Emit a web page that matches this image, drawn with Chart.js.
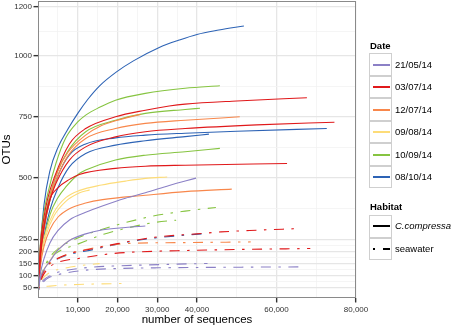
<!DOCTYPE html>
<html>
<head>
<meta charset="utf-8">
<script src="https://cdn.jsdelivr.net/npm/chart.js@4.4.1/dist/chart.umd.min.js"></script>
<style>
  html, body { margin: 0; padding: 0; background: #fff; }
  #wrap { position: relative; width: 454px; height: 329px; font-family: "Liberation Sans", Arial, sans-serif; }
  #chart { position: absolute; left: 0; top: 0; }
  .lg-title { position: absolute; left: 370px; font-size: 9.5px; font-weight: bold; line-height: 12px; color: #000; }
  .lg-key { position: absolute; left: 369px; width: 23px; height: 22.5px; box-sizing: border-box; border: 1.3px solid #cfcfcf; background: #fff; }
  .lg-label { position: absolute; left: 395px; font-size: 9.5px; line-height: 12px; color: #000; white-space: nowrap; }
  .seg { position: absolute; height: 2px; }
</style>
</head>
<body>
<div id="wrap">
  <canvas id="chart" width="454" height="329"></canvas>
  <div id="legend"></div>
</div>
<script>
// dates and habitats
const dates = ['21/05/14', '03/07/14', '12/07/14', '09/08/14', '10/09/14', '08/10/14'];
const dateColors = ['#8b80c6', '#e0191b', '#f8874b', '#fddc78', '#86c441', '#2d63b5'];
const habitats = ['C.compressa', 'seawater'];

// axis ticks
const yMajor = [50, 100, 150, 200, 250, 500, 750, 1000, 1200];
const yMinor = [75, 125, 175, 225, 375, 625, 875, 1100];
const xMajor = [10000, 20000, 30000, 40000, 60000, 80000];
const xTickLabels = ['10,000', '20,000', '30,000', '40,000', '60,000', '80,000'];
const xMinor = [5000, 15000, 25000, 35000, 50000, 70000];

// rarefaction curves, [sequences, OTUs]
// 21/05/14
const may21CC1 = [[100,48],[600,110],[1500,170],[3000,235],[5000,285],[8000,330],[12000,360],[16000,385],[22000,418],[27000,440],[33000,470],[39750,500]];
const may21CC2 = [[100,48],[600,90],[1500,125],[2900,158],[5000,205],[7900,245],[12000,272],[16000,288],[22000,298],[27000,304]];
const may21SW1 = [[100,40],[600,65],[1500,85],[3000,100],[5000,115],[8000,125],[13000,135],[20000,141],[28000,145],[35000,148],[42650,151]];
const may21SW2 = [[100,40],[600,60],[1500,78],[3000,95],[5000,105],[8000,115],[13000,125],[20000,130],[30000,133],[45000,135],[66800,137]];
// 03/07/14
const jul03CC1 = [[100,48],[600,220],[1500,340],[2500,420],[4150,505],[7900,640],[12000,703],[19500,751],[27000,778],[33000,795],[37000,803],[50000,816],[67650,829]];
const jul03CC2 = [[100,48],[600,190],[1500,300],[3000,410],[4500,478],[7900,574],[12000,628],[19500,669],[27000,690],[37000,703],[55000,718],[74575,729]];
const jul03CC3 = [[100,48],[600,170],[1500,300],[2900,410],[5000,460],[7900,495],[10400,515],[19500,540],[27000,549],[37000,553],[62650,560]];
const jul03SW1 = [[100,45],[800,95],[2500,145],[5000,172],[8000,192],[14000,212],[20000,232],[26000,250],[31500,262],[40000,272],[46000,280],[55000,287],[64700,293]];
const jul03SW2 = [[100,45],[800,85],[2500,130],[5000,155],[10400,172],[18000,190],[24750,198],[35000,203],[50000,208],[68500,212]];
// 12/07/14
const jul12CC1 = [[100,48],[600,190],[1500,300],[3000,420],[5000,530],[7500,605],[12000,676],[16000,715],[19500,735],[25800,761]];
const jul12CC2 = [[100,48],[600,180],[1500,290],[3000,410],[5000,510],[7500,590],[12000,662],[19500,703],[27000,724],[37000,737],[50750,751]];
const jul12CC3 = [[100,48],[600,140],[1500,220],[3000,290],[5000,340],[7900,375],[12000,398],[16250,412],[27000,430],[37000,445],[48750,455]];
const jul12SW1 = [[100,45],[800,90],[2500,140],[5000,170],[10000,200],[16000,220],[23000,233],[35000,236],[53500,239]];
// 09/08/14
const aug09CC1 = [[100,48],[600,170],[2000,280],[4000,360],[7000,420],[10500,450],[16000,472],[22000,488],[27000,499],[32500,505]];
const aug09CC2 = [[100,48],[600,160],[2000,265],[4000,345],[7000,405],[10500,440],[13000,452]];
const aug09CC3 = [[100,48],[600,95],[1250,120],[2900,160],[4575,199],[7000,235],[8750,253]];
const aug09SW1 = [[100,40],[400,50],[1250,55],[3000,58],[6000,62],[10000,65],[15000,67],[21650,69]];
const aug09SW2 = [[100,45],[600,70],[1500,95],[3500,118],[7000,132],[12000,145],[15500,150]];
// 10/09/14
const sep10CC1 = [[100,48],[600,230],[1500,360],[2500,440],[4500,560],[7000,665],[10000,730],[12000,758],[15500,790],[19500,819],[27000,847],[37000,868],[45750,878]];
const sep10CC2 = [[100,48],[600,210],[1500,320],[3000,430],[5000,530],[7500,610],[12000,690],[19500,737],[27000,765],[37000,781],[40750,786]];
const sep10CC3 = [[100,48],[600,150],[1500,250],[3000,350],[5000,420],[7000,464],[10400,519],[12000,533],[19500,574],[27000,594],[37000,608],[45750,622]];
const sep10SW1 = [[100,45],[800,100],[2500,165],[5000,210],[10000,255],[16000,290],[22000,318],[29000,345],[37000,365],[44750,380]];
const sep10SW2 = [[100,45],[800,95],[2500,160],[5000,198],[10000,230],[16500,270],[23000,298],[29000,318],[34750,328]];
// 08/10/14
const oct08CC1 = [[100,48],[500,200],[1500,390],[3000,530],[5000,625],[7500,700],[10000,765],[12500,822],[15500,878],[19750,935],[24000,980],[30500,1035],[35500,1065],[40000,1088],[45500,1106],[51800,1123]];
const oct08CC2 = [[100,48],[600,170],[1500,290],[3000,410],[5000,510],[7900,595],[12000,640],[19500,665],[27000,676],[37000,684],[50000,692],[72650,703]];
const oct08CC3 = [[100,48],[600,150],[1500,260],[3000,370],[5000,460],[7900,546],[12000,601],[19500,635],[27000,653],[37000,670],[43000,680]];
const oct08SW1 = [[100,45],[800,95],[2500,148],[5000,170],[8000,188],[14000,208],[20000,230],[27000,250],[35000,264],[43000,274]];

const curves = [
  { date: '21/05/14', habitat: 'C.compressa', pts: may21CC1 },
  { date: '21/05/14', habitat: 'C.compressa', pts: may21CC2 },
  { date: '21/05/14', habitat: 'seawater', pts: may21SW1 },
  { date: '21/05/14', habitat: 'seawater', pts: may21SW2 },
  { date: '03/07/14', habitat: 'C.compressa', pts: jul03CC1 },
  { date: '03/07/14', habitat: 'C.compressa', pts: jul03CC2 },
  { date: '03/07/14', habitat: 'C.compressa', pts: jul03CC3 },
  { date: '03/07/14', habitat: 'seawater', pts: jul03SW1 },
  { date: '03/07/14', habitat: 'seawater', pts: jul03SW2 },
  { date: '12/07/14', habitat: 'C.compressa', pts: jul12CC1 },
  { date: '12/07/14', habitat: 'C.compressa', pts: jul12CC2 },
  { date: '12/07/14', habitat: 'C.compressa', pts: jul12CC3 },
  { date: '12/07/14', habitat: 'seawater', pts: jul12SW1 },
  { date: '09/08/14', habitat: 'C.compressa', pts: aug09CC1 },
  { date: '09/08/14', habitat: 'C.compressa', pts: aug09CC2 },
  { date: '09/08/14', habitat: 'C.compressa', pts: aug09CC3 },
  { date: '09/08/14', habitat: 'seawater', pts: aug09SW1 },
  { date: '09/08/14', habitat: 'seawater', pts: aug09SW2 },
  { date: '10/09/14', habitat: 'C.compressa', pts: sep10CC1 },
  { date: '10/09/14', habitat: 'C.compressa', pts: sep10CC2 },
  { date: '10/09/14', habitat: 'C.compressa', pts: sep10CC3 },
  { date: '10/09/14', habitat: 'seawater', pts: sep10SW1 },
  { date: '10/09/14', habitat: 'seawater', pts: sep10SW2 },
  { date: '08/10/14', habitat: 'C.compressa', pts: oct08CC1 },
  { date: '08/10/14', habitat: 'C.compressa', pts: oct08CC2 },
  { date: '08/10/14', habitat: 'C.compressa', pts: oct08CC3 },
  { date: '08/10/14', habitat: 'seawater', pts: oct08SW1 }
];

const dotDash = [2.5, 7.5, 10, 7.5];
const FONT = '"Liberation Sans", Arial, sans-serif';

const datasets = curves.map(c => ({
  label: c.date + ' ' + c.habitat,
  data: c.pts.map(p => ({ x: p[0], y: p[1] })),
  borderColor: dateColors[dates.indexOf(c.date)],
  borderWidth: 1.1,
  borderDash: c.habitat === 'seawater' ? dotDash : [],
  pointRadius: 0,
  showLine: true,
  fill: false,
  cubicInterpolationMode: 'monotone'
}));

// panel border like ggplot
const panelBorder = {
  id: 'panelBorder',
  afterDraw(chart) {
    const a = chart.chartArea;
    const ctx = chart.ctx;
    ctx.save();
    ctx.strokeStyle = '#8a8a8a';
    ctx.lineWidth = 1;
    ctx.strokeRect(a.left + 0.5, a.top + 0.5, a.right - a.left - 1, a.bottom - a.top - 1);
    ctx.restore();
  }
};

function noPad(s) {
  s.paddingTop = 0; s.paddingBottom = 0; s.paddingLeft = 0; s.paddingRight = 0;
}

const isMajorX = v => xMajor.includes(v);
const isMajorY = v => yMajor.includes(v);

new Chart(document.getElementById('chart'), {
  type: 'scatter',
  data: { datasets: datasets },
  options: {
    responsive: false,
    animation: false,
    layout: { padding: { left: 0, right: 98, top: 1, bottom: 0 } },
    plugins: { legend: { display: false }, tooltip: { enabled: false } },
    scales: {
      x: {
        type: 'linear',
        min: 0,
        max: 80000,
        afterBuildTicks: s => { s.ticks = xMinor.concat(xMajor).sort((a, b) => a - b).map(v => ({ value: v })); },
        afterFit: s => { s.height = 31; noPad(s); },
        border: { display: false },
        grid: {
          color: c => isMajorX(c.tick.value) ? '#e6e6e6' : '#f2f2f2',
          lineWidth: c => isMajorX(c.tick.value) ? 1.3 : 0.8,
          tickColor: c => isMajorX(c.tick.value) ? '#333' : 'rgba(0,0,0,0)',
          tickWidth: 1.4,
          tickLength: 4.5
        },
        ticks: {
          autoSkip: false, maxRotation: 0, minRotation: 0, padding: 2,
          color: '#333',
          font: { family: FONT, size: 8 },
          callback: v => isMajorX(v) ? xTickLabels[xMajor.indexOf(v)] : ''
        },
        title: {
          display: true, text: 'number of sequences', color: '#000',
          font: { family: FONT, size: 11.5 }, padding: { top: 0, bottom: 2 }
        }
      },
      y: {
        type: 'linear',
        min: 9.5,
        max: 1225,
        afterBuildTicks: s => { s.ticks = yMinor.concat(yMajor).sort((a, b) => a - b).map(v => ({ value: v })); },
        afterFit: s => { s.width = 38; noPad(s); },
        border: { display: false },
        grid: {
          color: c => isMajorY(c.tick.value) ? '#e6e6e6' : '#f2f2f2',
          lineWidth: c => isMajorY(c.tick.value) ? 1.3 : 0.8,
          tickColor: c => isMajorY(c.tick.value) ? '#333' : 'rgba(0,0,0,0)',
          tickWidth: 1.4,
          tickLength: 4.5
        },
        ticks: {
          autoSkip: false, padding: 1.5,
          color: '#333',
          font: { family: FONT, size: 8 },
          callback: v => isMajorY(v) ? String(v) : ''
        },
        title: {
          display: true, text: 'OTUs', color: '#000',
          font: { family: FONT, size: 11.5 }, padding: { top: 0, bottom: 0 }
        }
      }
    }
  },
  plugins: [panelBorder]
});

// legend (ggplot style, two groups)
const legend = document.getElementById('legend');
function el(cls, css, text) {
  const d = document.createElement('div');
  d.className = cls;
  Object.assign(d.style, css);
  if (text) d.textContent = text;
  legend.appendChild(d);
  return d;
}
el('lg-title', { top: '40px' }, 'Date');
dates.forEach((d, i) => {
  const top = 53.3 + i * 22.5;
  el('lg-key', { top: top + 'px' });
  el('seg', { left: '372.5px', width: '17.5px', top: (top + 10.3) + 'px', background: dateColors[i] });
  el('lg-label', { top: (top + 5.3) + 'px' }, d);
});
el('lg-title', { top: '201px' }, 'Habitat');
habitats.forEach((h, i) => {
  const top = 215 + i * 22.5;
  el('lg-key', { top: top + 'px' });
  if (h === 'seawater') {
    el('seg', { left: '372.5px', width: '2.2px', top: (top + 10.3) + 'px', background: '#000' });
    el('seg', { left: '382.5px', width: '7.5px', top: (top + 10.3) + 'px', background: '#000' });
  } else {
    el('seg', { left: '372.5px', width: '17.5px', top: (top + 10.3) + 'px', background: '#000' });
  }
  const lab = el('lg-label', { top: (top + 5.3) + 'px' }, h);
  if (h === 'C.compressa') lab.style.fontStyle = 'italic';
});
</script>
</body>
</html>
